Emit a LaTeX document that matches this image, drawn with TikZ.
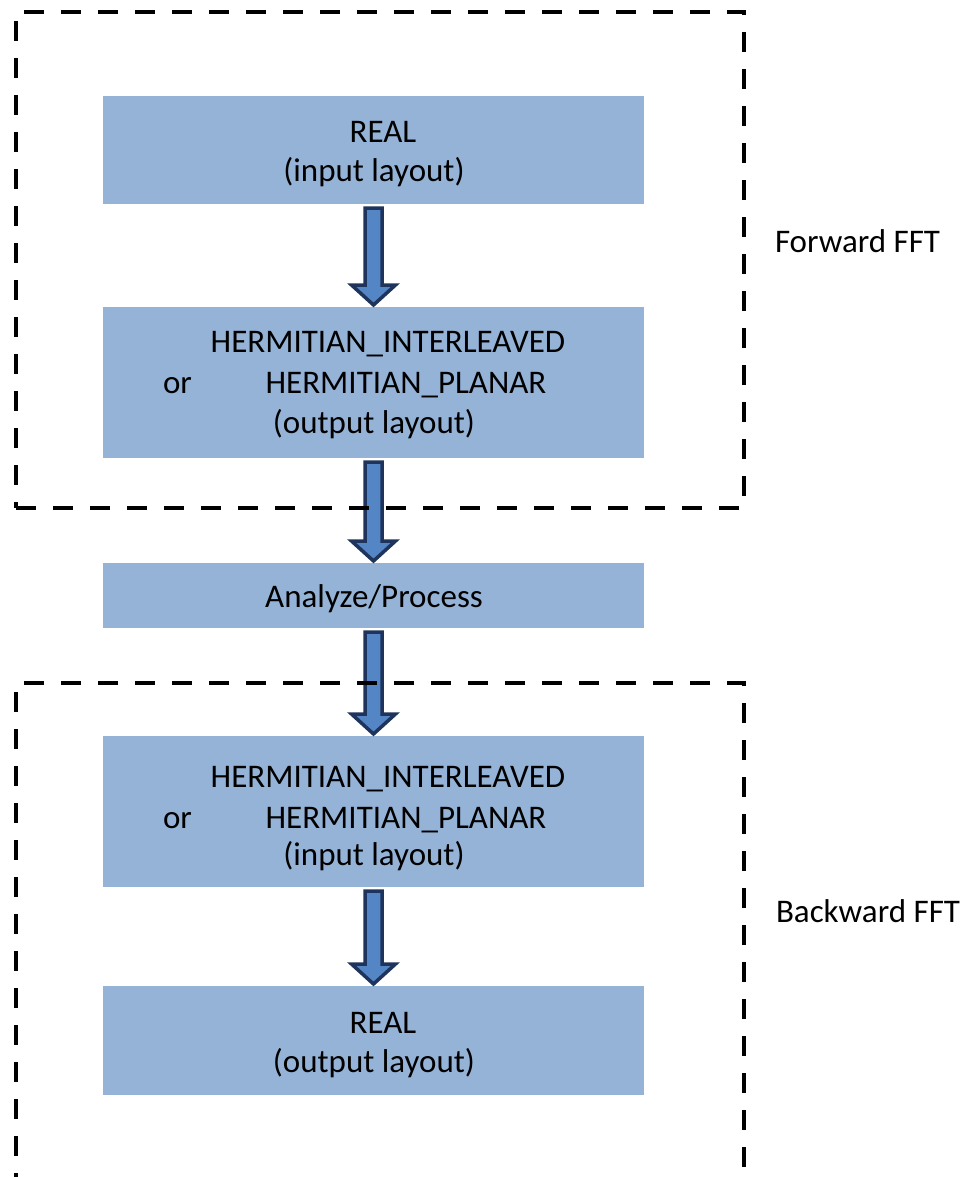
\documentclass[tikz,border=0pt]{standalone}
\usepackage{fontspec}
\setmainfont{Carlito}
\usetikzlibrary{calc}

\definecolor{boxblue}{RGB}{149,179,215}
\definecolor{arrowblue}{RGB}{84,133,196}
\definecolor{arrowedge}{RGB}{30,52,92}

\begin{document}
\begin{tikzpicture}[x=1pt,y=-1pt,
  every node/.style={font=\fontsize{33}{40}\selectfont,inner sep=0pt,outer sep=0pt},
  layoutbox/.style={fill=boxblue,minimum width=541pt,anchor=north},
  txt/.style={anchor=base},
  fftframe/.style={draw,line width=4.5pt,dash pattern=on 20pt off 17pt,
    anchor=north west,minimum width=728pt},
  fatarrow/.style={draw=arrowedge,fill=arrowblue,line width=3.5pt,line join=miter,
    to path={let \p1=(\tikztostart),\p2=(\tikztotarget) in
      (\x1-8.5pt,\y1-4pt) -- (\x1-8.5pt,\y2+22pt) -- (\x1-22pt,\y2+22pt)
      -- (\x1,\y2+2pt) -- (\x1+22pt,\y2+22pt) -- (\x1+8.5pt,\y2+22pt)
      -- (\x1+8.5pt,\y1-4pt) -- cycle}}]
  \useasboundingbox (0,0) rectangle (968,1177);

  % forward side
  \node[layoutbox,minimum height=108pt] (realin) at (373.5,96) {};
  \node[txt] (realintop) at (383,143) {REAL};
  \node[txt] (realinbot) at (374,182) {(input layout)};

  \node[layoutbox,minimum height=151pt] (hermout) at (373.5,307) {};
  \node[txt] (hermoutA) at (388,352) {HERMITIAN\_INTERLEAVED};
  \node[txt,anchor=base west] (hermoutor) at (163,393) {or};
  \node[txt] (hermoutB) at (406,393) {HERMITIAN\_PLANAR};
  \node[txt] (hermoutC) at (374,433) {(output layout)};

  \node[layoutbox,minimum height=65pt] (process) at (373.5,563) {};
  \node[txt] (processtxt) at (374,607) {Analyze/Process};

  % backward side
  \node[layoutbox,minimum height=151pt] (hermin) at (373.5,736) {};
  \node[txt] (herminA) at (388,787) {HERMITIAN\_INTERLEAVED};
  \node[txt,anchor=base west] (herminor) at (163,828) {or};
  \node[txt] (herminB) at (406,828) {HERMITIAN\_PLANAR};
  \node[txt] (herminC) at (374,865) {(input layout)};

  \node[layoutbox,minimum height=109pt] (realout) at (373.5,986) {};
  \node[txt] (realouttop) at (383,1033) {REAL};
  \node[txt] (realoutbot) at (374,1072) {(output layout)};

  \draw[fatarrow] (realin.south) to (hermout.north);
  \draw[fatarrow] (hermout.south) to (process.north);
  \draw[fatarrow] (process.south) to (hermin.north);
  \draw[fatarrow] (hermin.south) to (realout.north);

  \node[fftframe,minimum height=496pt] (fwdframe) at (16,12) {};
  \node[fftframe,minimum height=496pt] (bwdframe) at (16,683) {};
  \node[txt,anchor=base west] (fwdlabel) at (775,252) {Forward FFT};
  \node[txt,anchor=base west] (bwdlabel) at (776,922) {Backward FFT};
\end{tikzpicture}
\end{document}
